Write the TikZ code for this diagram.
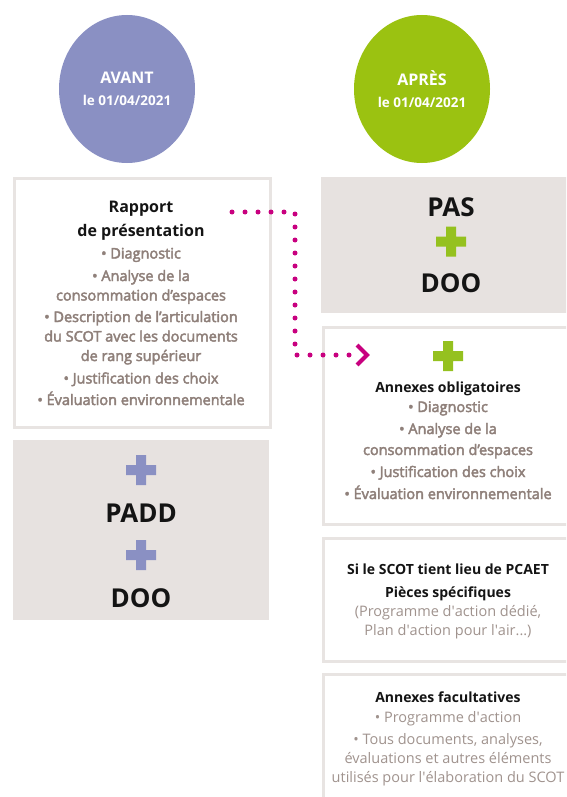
\documentclass[tikz,border=0pt]{standalone}
\usepackage{fontspec}
\setmainfont{Open Sans}
\newfontfamily\semib{Open Sans}[FakeBold=3]
\usetikzlibrary{shapes.geometric}

\definecolor{avantblue}{HTML}{8A90C3}
\definecolor{apresgreen}{HTML}{9BC211}
\definecolor{plusgreen}{HTML}{95C11F}
\definecolor{boxgrey}{HTML}{E7E2E0}
\definecolor{frameline}{HTML}{E8E4E2}
\definecolor{itemgrey}{HTML}{8F807A}
\definecolor{notegrey}{HTML}{A0938E}
\definecolor{titleblack}{HTML}{141414}
\definecolor{linkpink}{HTML}{C8007F}

\begin{document}
\begin{tikzpicture}
[ x=1pt, y=-1pt
, every node/.style={inner sep=0pt, align=center}
, datebubble/.style={ellipse, minimum width=136pt, minimum height=148pt,
    text=white, font=\bfseries\fontsize{16}{22}\selectfont}
, framebox/.style={rectangle, draw=frameline, line width=2.5pt, fill=white,
    anchor=north west}
, greybox/.style={rectangle, fill=boxgrey, anchor=north west}
, bigtitle/.style={font=\bfseries\fontsize{26}{30}\selectfont, text=titleblack}
, boxhead/.style={anchor=base, font=\bfseries\fontsize{14}{23}\selectfont,
    text=titleblack}
, boxlist/.style={anchor=base, font=\semib\fontsize{14.5}{19.5}\selectfont,
    text=itemgrey}
, notelist/.style={anchor=base, font=\fontsize{14.5}{19}\selectfont,
    text=notegrey}
, linkdots/.style={linkpink, line width=5pt, line cap=round,
    dash pattern=on 0pt off 13pt}
, linkhead/.style={linkpink, line width=4pt}
, plussign/.pic={\fill (-15,-5) rectangle (15,5) (-5,-15) rectangle (5,15);}
]

\useasboundingbox (0,0) rectangle (566,797);
\clip (0,0) rectangle (566,797);

% the two dates
\node[datebubble, fill=avantblue] (avant) at (127,89)
  {AVANT\\{\fontsize{13.5}{16}\selectfont le 01/04/2021}};
\node[datebubble, fill=apresgreen] (apres) at (422,89)
  {APRÈS\\{\fontsize{13.5}{16}\selectfont le 01/04/2021}};

% before (base anchors sit on the last line)
\node[framebox, minimum width=256pt, minimum height=249pt] (rapport) at (13,177) {};
\node[boxhead, font=\bfseries\fontsize{16}{24}\selectfont] (rapporthead) at (141,236)
  {Rapport\\de présentation};
\node[boxlist] (rapportlist) at (141,405)
  {• Diagnostic\\[3pt]
   • Analyse de la\\consommation d’espaces\\[2pt]
   • Description de l’articulation\\du SCOT avec les documents\\de rang supérieur\\[3pt]
   • Justification des choix\\[2pt]
   • Évaluation environnementale};

\node[greybox, minimum width=256pt, minimum height=180pt] (paddbox) at (13,440) {};
\pic[avantblue] at (141,470) {plussign};
\node[bigtitle] (padd) at (141,513) {PADD};
\pic[avantblue] at (141,555) {plussign};
\node[bigtitle] (doo) at (141,598) {DOO};

% after
\node[greybox, minimum width=250pt, minimum height=136pt] (pasbox) at (321,177) {};
\node[bigtitle] (pas) at (451,207) {PAS};
\pic[plusgreen] at (451,241.5) {plussign};
\node[bigtitle] (doonew) at (451,283) {DOO};

\node[framebox, minimum width=250pt, minimum height=197pt] (oblig) at (322,326) {};
\pic[plusgreen] at (448,356) {plussign};
\node[boxhead] (obligHead) at (448,392) {Annexes obligatoires};
\node[boxlist, font=\semib\fontsize{14.5}{21}\selectfont] (obliglist) at (448,499)
  {• Diagnostic\\[1pt]
   • Analyse de la\\consommation d’espaces\\[1pt]
   • Justification des choix\\[1pt]
   • Évaluation environnementale};

\node[framebox, minimum width=250pt, minimum height=123pt] (pcaet) at (322,537) {};
\node[boxhead] (pcaethead) at (448,597)
  {Si le SCOT tient lieu de PCAET\\Pièces spécifiques};
\node[notelist] (pcaetlist) at (448,635)
  {(Programme d\textquotesingle action dédié,\\Plan d\textquotesingle action pour l\textquotesingle air...)};

\node[framebox, minimum width=250pt, minimum height=140pt] (facult) at (322,673) {};
\node[boxhead] (faculthead) at (448,702) {Annexes facultatives};
\node[notelist] (facultlist) at (448,782)
  {• Programme d\textquotesingle action\\[3pt]
   • Tous documents, analyses,\\évaluations et autres éléments\\utilisés pour l\textquotesingle élaboration du SCOT};

% link from the report to the annexes
\coordinate (linkstart) at (232,212);
\coordinate (linkend) at (350,355);
\coordinate (linktip) at (367,355);
\draw[linkdots] (linkstart) -- ++(63,0) |- (linkend);
\draw[linkhead] (linktip) ++(-10,-10) -- (linktip) -- ++(-10,10);

\end{tikzpicture}
\end{document}
